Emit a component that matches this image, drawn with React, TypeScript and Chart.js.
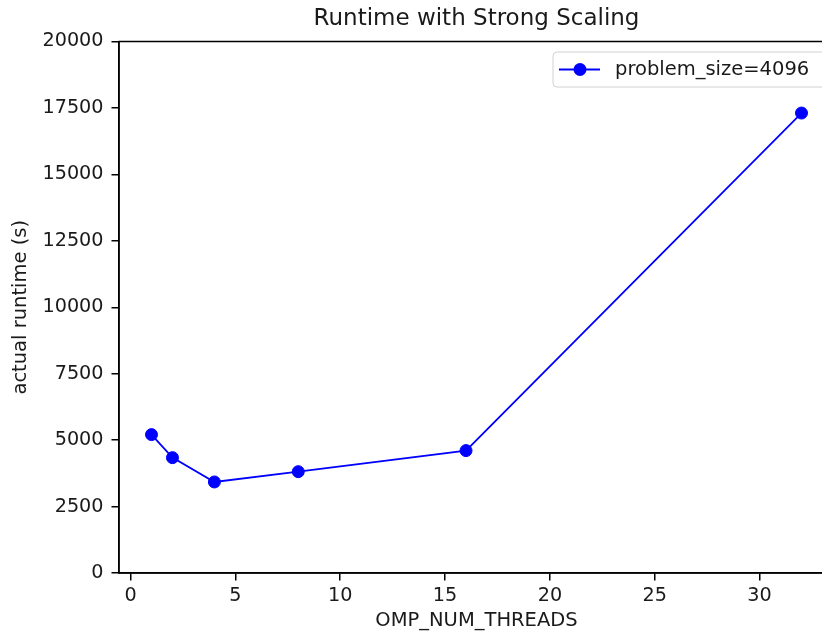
import React, { useEffect, useRef } from "react";
import { Chart, registerables } from "chart.js";

Chart.register(...registerables);

const threads = [1, 2, 4, 8, 16, 32];
const runtimes = [5207, 4341, 3426, 3814, 4605, 17308];
const xTicks = [0, 5, 10, 15, 20, 25, 30];
const yTicks = [0, 2500, 5000, 7500, 10000, 12500, 15000, 17500, 20000];
const seriesLabel = "problem_size=4096";
const titleText = "Runtime with Strong Scaling";
const xLabel = "OMP_NUM_THREADS";
const yLabel = "actual runtime (s)";

const FONT = "'DejaVu Sans', sans-serif";
const BLUE = "#0000ff";
const TICK_SIZE = 19.2;
const LABEL_SIZE = 19.5;

const framePlugin = {
  id: "frame",
  afterDraw(chart: any) {
    const { ctx, chartArea } = chart;
    const { left, right, top, bottom } = chartArea;
    ctx.save();
    ctx.strokeStyle = "#000";
    ctx.lineWidth = 1.5;
    ctx.strokeRect(left, top, right - left, bottom - top);

    // legend
    const bw = 276;
    const bh = 35;
    const bx = right - 5 - bw;
    const by = top + 10.5;
    const r = 4;
    ctx.beginPath();
    ctx.moveTo(bx + r, by);
    ctx.lineTo(bx + bw - r, by);
    ctx.arcTo(bx + bw, by, bx + bw, by + r, r);
    ctx.lineTo(bx + bw, by + bh - r);
    ctx.arcTo(bx + bw, by + bh, bx + bw - r, by + bh, r);
    ctx.lineTo(bx + r, by + bh);
    ctx.arcTo(bx, by + bh, bx, by + bh - r, r);
    ctx.lineTo(bx, by + r);
    ctx.arcTo(bx, by, bx + r, by, r);
    ctx.closePath();
    ctx.fillStyle = "rgba(255,255,255,0.8)";
    ctx.fill();
    ctx.strokeStyle = "#d0d0d0";
    ctx.lineWidth = 1;
    ctx.stroke();

    const cy = by + bh / 2;
    ctx.strokeStyle = BLUE;
    ctx.lineWidth = 1.8;
    ctx.beginPath();
    ctx.moveTo(bx + 6, cy);
    ctx.lineTo(bx + 47, cy);
    ctx.stroke();
    ctx.fillStyle = BLUE;
    ctx.beginPath();
    ctx.arc(bx + 27, cy, 6.5, 0, Math.PI * 2);
    ctx.fill();

    ctx.fillStyle = "#1a1a1a";
    ctx.font = `${LABEL_SIZE}px ${FONT}`;
    ctx.textAlign = "left";
    ctx.textBaseline = "middle";
    ctx.fillText(seriesLabel, bx + 62, cy);
    ctx.restore();
  },
};

export default function App() {
  const ref = useRef<HTMLCanvasElement | null>(null);

  useEffect(() => {
    if (!ref.current) return;
    const chart = new Chart(ref.current, {
      type: "line",
      data: {
        datasets: [
          {
            label: seriesLabel,
            data: threads.map((t, i) => ({ x: t, y: runtimes[i] })),
            borderColor: BLUE,
            backgroundColor: BLUE,
            borderWidth: 1.8,
            pointRadius: 6,
            pointBorderWidth: 1,
            pointBorderColor: BLUE,
            pointBackgroundColor: BLUE,
            tension: 0,
          },
        ],
      },
      options: {
        animation: false,
        responsive: false,
        devicePixelRatio: 1,
        layout: { padding: { left: 0, top: 0, right: 16, bottom: 0 } },
        plugins: {
          legend: { display: false },
          tooltip: { enabled: false },
          title: {
            display: true,
            text: titleText,
            fullSize: false,
            color: "#1a1a1a",
            font: { family: FONT, size: 23, weight: "normal" },
            padding: { top: 5.2, bottom: 8.7 },
          },
        },
        scales: {
          x: {
            type: "linear",
            min: -0.55,
            max: 33.55,
            afterBuildTicks: (scale: any) => {
              scale.ticks = xTicks.map((v) => ({ value: v }));
            },
            afterFit: (scale: any) => {
              scale.height = 64;
            },
            ticks: {
              color: "#1a1a1a",
              font: { family: FONT, size: TICK_SIZE },
              padding: 4,
              maxRotation: 0,
              callback: (v: any) => String(v),
            },
            grid: {
              display: true,
              drawOnChartArea: false,
              drawTicks: true,
              tickLength: 7.5,
              color: "#000",
              lineWidth: 1.5,
            },
            border: { display: true, color: "#000", width: 1.5 },
            title: {
              display: true,
              text: xLabel,
              color: "#1a1a1a",
              font: { family: FONT, size: LABEL_SIZE },
              padding: { top: 0, bottom: 4.8 },
            },
          },
          y: {
            type: "linear",
            min: 0,
            max: 20000,
            afterBuildTicks: (scale: any) => {
              scale.ticks = yTicks.map((v) => ({ value: v }));
            },
            afterFit: (scale: any) => {
              scale.width = 119;
            },
            ticks: {
              color: "#1a1a1a",
              font: { family: FONT, size: TICK_SIZE },
              padding: 8,
              callback: (v: any) => String(v),
            },
            grid: {
              display: true,
              drawOnChartArea: false,
              drawTicks: true,
              tickLength: 7.5,
              color: "#000",
              lineWidth: 1.5,
            },
            border: { display: true, color: "#000", width: 1.5 },
            title: {
              display: true,
              text: yLabel,
              color: "#1a1a1a",
              font: { family: FONT, size: LABEL_SIZE },
              padding: { top: 8.8, bottom: 0 },
            },
          },
        },
      },
      plugins: [framePlugin],
    } as any);
    return () => chart.destroy();
  }, []);

  return (
    <div
      style={{
        position: "fixed",
        left: 0,
        top: 0,
        width: 822,
        height: 637,
        overflow: "hidden",
        background: "#fff",
      }}
    >
      <canvas ref={ref} width={850} height={637} style={{ display: "block" }} />
    </div>
  );
}
